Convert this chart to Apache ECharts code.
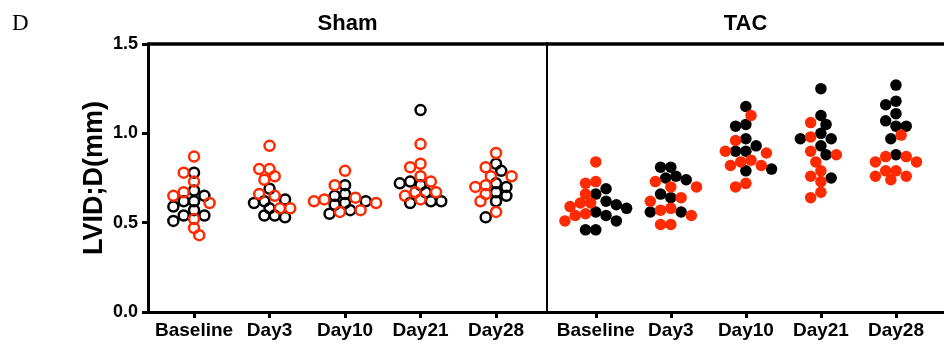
<!DOCTYPE html>
<html>
<head>
<meta charset="utf-8">
<script src="https://cdn.jsdelivr.net/npm/echarts@6/dist/echarts.min.js"></script>
<style>
  html, body { margin: 0; padding: 0; background: #fff; }
  #chart { width: 944px; height: 347px; }
</style>
</head>
<body>
<div id="chart"></div>
<script>
// categories and panels
var categories = ['Baseline', 'Day3', 'Day10', 'Day21', 'Day28'];
var panels = ['Sham', 'TAC'];
var yTicks = [0, 0.5, 1.0, 1.5];

// LVID;D (mm), one list per time point
var shamBlack = [
  [0.78, 0.65, 0.62, 0.62, 0.68, 0.59, 0.57, 0.54, 0.54, 0.51],
  [0.69, 0.61, 0.62, 0.63, 0.58, 0.54, 0.54, 0.53],
  [0.71, 0.66, 0.65, 0.62, 0.61, 0.57, 0.55, 0.60],
  [1.13, 0.72, 0.73, 0.71, 0.62, 0.62, 0.61, 0.67],
  [0.83, 0.79, 0.72, 0.70, 0.67, 0.65, 0.62, 0.53]
];
var shamRed = [
  [0.87, 0.78, 0.73, 0.67, 0.65, 0.61, 0.52, 0.47, 0.43],
  [0.93, 0.80, 0.80, 0.76, 0.74, 0.65, 0.66, 0.58, 0.58],
  [0.79, 0.71, 0.63, 0.62, 0.64, 0.61, 0.57, 0.56],
  [0.94, 0.83, 0.81, 0.76, 0.73, 0.67, 0.65, 0.63, 0.67],
  [0.89, 0.81, 0.76, 0.76, 0.70, 0.71, 0.66, 0.62, 0.56]
];
var tacBlack = [
  [0.69, 0.66, 0.62, 0.60, 0.58, 0.56, 0.54, 0.51, 0.46, 0.46],
  [0.81, 0.81, 0.74, 0.75, 0.76, 0.66, 0.64, 0.56, 0.56],
  [1.15, 1.05, 1.04, 0.97, 0.90, 0.90, 0.93, 0.79, 0.80],
  [1.25, 1.10, 1.05, 1.00, 0.97, 0.97, 0.93, 0.88, 0.75],
  [1.27, 1.18, 1.16, 1.11, 1.07, 1.04, 1.04, 0.97, 0.88]
];
var tacRed = [
  [0.84, 0.73, 0.72, 0.66, 0.61, 0.61, 0.59, 0.55, 0.54, 0.51],
  [0.73, 0.70, 0.70, 0.64, 0.62, 0.58, 0.54, 0.57, 0.49, 0.49],
  [1.10, 0.96, 0.90, 0.89, 0.82, 0.84, 0.85, 0.82, 0.70, 0.72],
  [1.06, 0.98, 0.90, 0.88, 0.84, 0.79, 0.76, 0.73, 0.67, 0.64],
  [0.99, 0.87, 0.84, 0.87, 0.84, 0.76, 0.79, 0.76, 0.79, 0.74]
];

var RED = '#ff2a00';
var FONT = '"Liberation Sans", Arial, sans-serif';

// plot geometry (pixels)
var gridTop = 44, gridHeight = 268;
var grids = [
  { left: 148, width: 399, xMin: -0.61, xMax: 4.675, packing: 0.66 },
  { left: 547, width: 400, xMin: -0.65, xMax: 4.64, packing: 0.86 }
];
var dotDiam = 11.5;

// simple beeswarm: spread points sideways, allowing some overlap like the original
function swarm(values, pxPerX, pxPerY, packing) {
  var order = values.map(function (v, i) { return i; })
    .sort(function (a, b) { return values[b] - values[a]; });
  var placed = [];
  var offs = new Array(values.length);
  var step = dotDiam * 0.45;
  var minD = dotDiam * packing;
  order.forEach(function (i) {
    var y = values[i] * pxPerY;
    for (var k = 0; k < 40; k++) {
      var cands = k === 0 ? [0] : (k % 2 ? [k * step, -k * step] : [-k * step, k * step]);
      var found = null;
      for (var c = 0; c < cands.length; c++) {
        var x = cands[c];
        var ok = placed.every(function (p) {
          var dx = p.x - x, dy = p.y - y;
          return dx * dx + dy * dy >= minD * minD;
        });
        if (ok) { found = x; break; }
      }
      if (found !== null) {
        placed.push({ x: found, y: y });
        offs[i] = found / pxPerX;
        break;
      }
    }
  });
  return offs;
}

function buildSeries(gi, blackSets, redSets) {
  var g = grids[gi];
  var pxPerX = g.width / (g.xMax - g.xMin);
  var pxPerY = gridHeight / (yTicks[yTicks.length - 1] - yTicks[0]);
  var black = [], red = [];
  categories.forEach(function (cat, ci) {
    var b = blackSets[ci], r = redSets[ci];
    var all = b.concat(r);
    var offs = swarm(all, pxPerX, pxPerY, g.packing);
    all.forEach(function (v, k) {
      var pt = [ci + offs[k], v];
      if (k < b.length) black.push(pt); else red.push(pt);
    });
  });
  var filled = gi === 1;
  function style(color) {
    return filled
      ? { color: color, opacity: 1 }
      : { color: 'rgba(0,0,0,0)', borderColor: color, borderWidth: 2.5, opacity: 1 };
  }
  var size = filled ? dotDiam : dotDiam - 1.5;
  return [
    { type: 'scatter', xAxisIndex: gi * 2, yAxisIndex: gi, data: black,
      symbolSize: size, itemStyle: style('#000'), silent: true, animation: false },
    { type: 'scatter', xAxisIndex: gi * 2, yAxisIndex: gi, data: red,
      symbolSize: size, itemStyle: style(RED), silent: true, animation: false }
  ];
}

var chart = echarts.init(document.getElementById('chart'));

var xAxes = [], yAxes = [];
grids.forEach(function (g, gi) {
  xAxes.push({
    type: 'value', gridIndex: gi, min: g.xMin, max: g.xMax, position: 'bottom',
    splitLine: { show: false },
    axisLine: { onZero: false, lineStyle: { color: '#000', width: 3 } },
    axisTick: { customValues: [0, 1, 2, 3, 4], length: 6, lineStyle: { color: '#000', width: 3 } },
    axisLabel: {
      customValues: [0, 1, 2, 3, 4], margin: 9,
      formatter: function (v) { return categories[Math.round(v)]; },
      color: '#000', fontFamily: FONT, fontWeight: 'bold', fontSize: 19
    }
  });
  xAxes.push({
    type: 'value', gridIndex: gi, min: g.xMin, max: g.xMax, position: 'top',
    name: panels[gi], nameLocation: 'middle', nameGap: 9,
    nameTextStyle: { color: '#000', fontFamily: FONT, fontWeight: 'bold', fontSize: 22 },
    splitLine: { show: false }, axisTick: { show: false }, axisLabel: { show: false },
    axisLine: { onZero: false, lineStyle: { color: '#000', width: 3.5 } }
  });
  yAxes.push({
    type: 'value', gridIndex: gi, min: yTicks[0], max: yTicks[yTicks.length - 1], interval: 0.5,
    splitLine: { show: false },
    name: gi === 0 ? 'LVID;D(mm)' : '', nameLocation: 'middle', nameGap: 40,
    nameTextStyle: { color: '#000', fontFamily: FONT, fontWeight: 'bold', fontSize: 27 },
    axisLine: { show: true, onZero: false, lineStyle: { color: '#000', width: gi === 0 ? 3 : 2 } },
    axisTick: { show: gi === 0, length: 6, lineStyle: { color: '#000', width: 3 } },
    axisLabel: {
      show: gi === 0, margin: 10, color: '#000', fontFamily: FONT, fontWeight: 'bold', fontSize: 18,
      formatter: function (v) { return v.toFixed(1); }
    }
  });
});

chart.setOption({
  backgroundColor: '#fff',
  animation: false,
  title: {
    text: 'D', left: 7, top: 7,
    textStyle: { fontFamily: '"Liberation Serif", "Times New Roman", serif', fontWeight: 'normal', fontSize: 23, color: '#000' }
  },
  grid: grids.map(function (g) {
    return { left: g.left, top: gridTop, width: g.width, height: gridHeight };
  }),
  xAxis: xAxes,
  yAxis: yAxes,
  series: buildSeries(0, shamBlack, shamRed).concat(buildSeries(1, tacBlack, tacRed))
});
</script>
</body>
</html>
